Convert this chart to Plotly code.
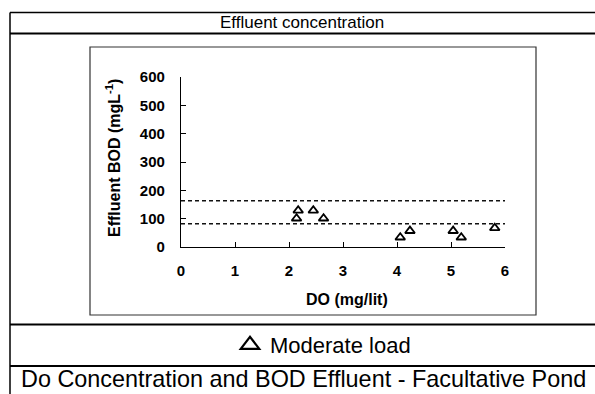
import plotly.graph_objects as go

# ---- data ----
do_mg_lit = [2.14, 2.17, 2.45, 2.64, 4.06, 4.24, 5.04, 5.19, 5.81]
bod_effluent = [101, 129, 129, 101, 34, 57, 57, 34, 67]
limit_levels = [163, 82]
limit_x = [0, 6]
x_tickvals = [0, 1, 2, 3, 4, 5, 6]
y_tickvals = [0, 100, 200, 300, 400, 500, 600]

W, H = 595, 394
L, R, T, B = 181, 505, 77, 247   # plot area in pixels
FONT = "Liberation Sans, Arial, sans-serif"


def xp(px):
    return (px - L) / (R - L)


def yp(py):
    return (B - py) / (B - T)


fig = go.Figure()

for lvl in limit_levels:
    fig.add_trace(go.Scatter(
        x=limit_x, y=[lvl, lvl], mode="lines",
        line=dict(color="#111", width=1.4, dash="4px,3px"),
        showlegend=False, hoverinfo="skip"))

fig.add_trace(go.Scatter(
    x=do_mg_lit, y=bod_effluent, mode="markers",
    marker=dict(symbol="triangle-up-open", size=8.5, color="#000",
                line=dict(width=1.8, color="#000")),
    cliponaxis=False, showlegend=False, name="Moderate load"))

# legend-only entry
fig.add_trace(go.Scatter(
    x=[None], y=[None], mode="markers", name="Moderate load",
    marker=dict(symbol="triangle-up-open", size=16, color="#000",
                line=dict(width=2.2, color="#000")),
    showlegend=True))

shapes = []


def hline(py, x0, x1, w):
    shapes.append(dict(type="line", xref="paper", yref="paper",
                       x0=xp(x0), x1=xp(x1), y0=yp(py), y1=yp(py),
                       line=dict(color="#000", width=w)))


def vline(px, y0, y1, w):
    shapes.append(dict(type="line", xref="paper", yref="paper",
                       x0=xp(px), x1=xp(px), y0=yp(y0), y1=yp(y1),
                       line=dict(color="#000", width=w)))


hline(12.5, 10, 600, 1.5)
vline(10, 12.5, 400, 1.5)
hline(33.5, 10, 600, 2.2)
hline(324.5, 10, 600, 2.2)
hline(366, 10, 600, 2.2)
shapes.append(dict(type="rect", xref="paper", yref="paper",
                   x0=xp(90), x1=xp(536), y0=yp(315), y1=yp(47),
                   line=dict(color="#333", width=1.2)))

annotations = [
    dict(text="Effluent concentration", x=xp(302), y=yp(22), xref="paper", yref="paper",
         showarrow=False, xanchor="center", yanchor="middle",
         font=dict(family=FONT, size=17, color="#000")),
    dict(text="Do Concentration and BOD Effluent - Facultative Pond", x=xp(303.5), y=yp(379),
         xref="paper", yref="paper", showarrow=False, xanchor="center", yanchor="middle",
         font=dict(family=FONT, size=23.4, color="#000")),
    dict(text="Effluent BOD (mgL<sup>-1</sup>)", x=xp(113), y=yp(158), xref="paper", yref="paper",
         showarrow=False, xanchor="center", yanchor="middle", textangle=-90,
         font=dict(family=FONT, size=16, color="#000", weight="bold")),
    dict(text="DO (mg/lit)", x=xp(347), y=yp(299), xref="paper", yref="paper",
         showarrow=False, xanchor="center", yanchor="middle",
         font=dict(family=FONT, size=16, color="#000", weight="bold")),
]

axis_common = dict(showline=True, linecolor="#000", linewidth=1.2, ticks="inside",
                   ticklen=5, tickwidth=1.2, tickcolor="#000", showgrid=False,
                   zeroline=False, mirror=False,
                   tickfont=dict(family=FONT, size=15, color="#000", weight="bold"))

fig.update_layout(
    width=W, height=H, autosize=False,
    margin=dict(l=L, r=W - R, t=T, b=H - B, pad=0),
    paper_bgcolor="white", plot_bgcolor="white",
    xaxis=dict(range=[0, 6], tickvals=x_tickvals, ticklabelstandoff=10, **axis_common),
    yaxis=dict(range=[0, 600], tickvals=y_tickvals, ticklabelstandoff=12, **axis_common),
    shapes=shapes, annotations=annotations,
    legend=dict(x=xp(230), y=yp(345), xanchor="left", yanchor="middle",
                bgcolor="rgba(0,0,0,0)", borderwidth=0,
                font=dict(family=FONT, size=22, color="#000")),
    showlegend=True,
)

fig.write_html("out.html")
